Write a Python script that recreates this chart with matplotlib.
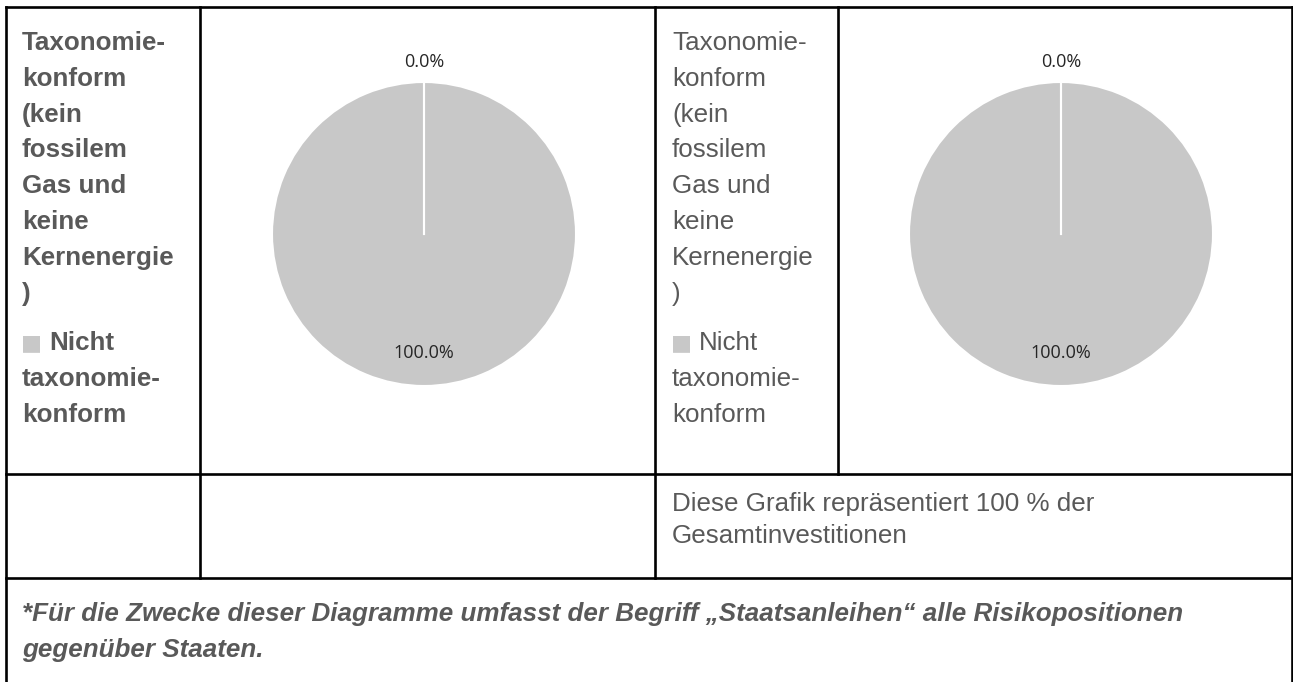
import numpy as np
import matplotlib.pyplot as plt

# Pie data: both charts show the same split
slice_names = ["Taxonomie-konform (kein fossilem Gas und keine Kernenergie)",
               "Nicht taxonomie-konform"]
chart_left_values = [0.0, 100.0]
chart_right_values = [0.0, 100.0]
slice_colors = ["#4472c4", "#c8c8c8"]

# Table texts
legend_top = ["Taxonomie-", "konform", "(kein", "fossilem", "Gas und", "keine", "Kernenergie", ")"]
legend_bottom = ["Nicht", "taxonomie-", "konform"]
note_lines = ["Diese Grafik repräsentiert 100 % der", "Gesamtinvestitionen"]
footnote_lines = ["*Für die Zwecke dieser Diagramme umfasst der Begriff \u201eStaatsanleihen\u201c alle Risikopositionen",
                  "gegenüber Staaten."]

W, H = 1293, 682
TXT = "#595959"
FONT = ["Liberation Sans", "DejaVu Sans"]
FS = 18.7

fig = plt.figure(figsize=(W / 100, H / 100), dpi=100)
bg = fig.add_axes([0, 0, 1, 1])
bg.set_xlim(0, W)
bg.set_ylim(H, 0)
bg.axis("off")

# table borders
lw = 1.9
def hline(y, x0, x1):
    bg.plot([x0, x1], [y, y], color="black", lw=lw, solid_capstyle="projecting")

def vline(x, y0, y1):
    bg.plot([x, x], [y0, y1], color="black", lw=lw, solid_capstyle="projecting")

hline(7, 6, 1292)
hline(474, 6, 1292)
hline(578, 6, 1292)
vline(6, 7, H + 2)
vline(1292, 7, H + 2)
vline(200, 7, 578)
vline(655, 7, 578)
vline(838, 7, 474)


# legend-like text column
def legend_column(x, weight):
    y = 50
    for s in legend_top:
        bg.text(x, y, s, fontsize=FS, color=TXT, fontweight=weight, family=FONT, va="baseline")
        y += 35.8
    y += 14
    bg.text(x - 1, y - 1, "\u25a0", fontsize=16, color=slice_colors[1], family=["DejaVu Sans"], va="baseline")
    for i, s in enumerate(legend_bottom):
        bg.text(x + (27 if i == 0 else 0), y, s, fontsize=FS, color=TXT, fontweight=weight,
                family=FONT, va="baseline")
        y += 35.8


legend_column(22, "bold")
legend_column(672, "normal")

for i, s in enumerate(note_lines):
    bg.text(672, 511 + i * 32, s, fontsize=FS, color=TXT, family=FONT, va="baseline")

for i, s in enumerate(footnote_lines):
    bg.text(22, 621 + i * 36, s, fontsize=FS, color=TXT, fontweight="bold", style="italic",
            family=FONT, va="baseline")


# pies
def draw_pie(cx, cy, r, values):
    ax = fig.add_axes([(cx - r) / W, 1 - (cy + r) / H, 2 * r / W, 2 * r / H])
    wedges, _, autotexts = ax.pie(values, colors=slice_colors, startangle=90, counterclock=False,
                                  autopct="%1.1f%%", pctdistance=1.13,
                                  wedgeprops=dict(edgecolor="white", linewidth=1.5),
                                  textprops=dict(fontsize=13, color="#262626", family="Open Sans"))
    # slice borders: the empty slice leaves a single white radius
    for w in wedges:
        t = np.deg2rad(w.theta1)
        ax.plot([0, np.cos(t)], [0, np.sin(t)], color="white", lw=1.5)
    # the big slice keeps its label inside, near the bottom
    autotexts[1].set_position((0, -0.78))
    ax.set_xlim(-1, 1)
    ax.set_ylim(-1, 1)
    ax.axis("off")


draw_pie(424, 234, 152, chart_left_values)
draw_pie(1061, 234, 152, chart_right_values)

fig.savefig("out.png", dpi=100)
